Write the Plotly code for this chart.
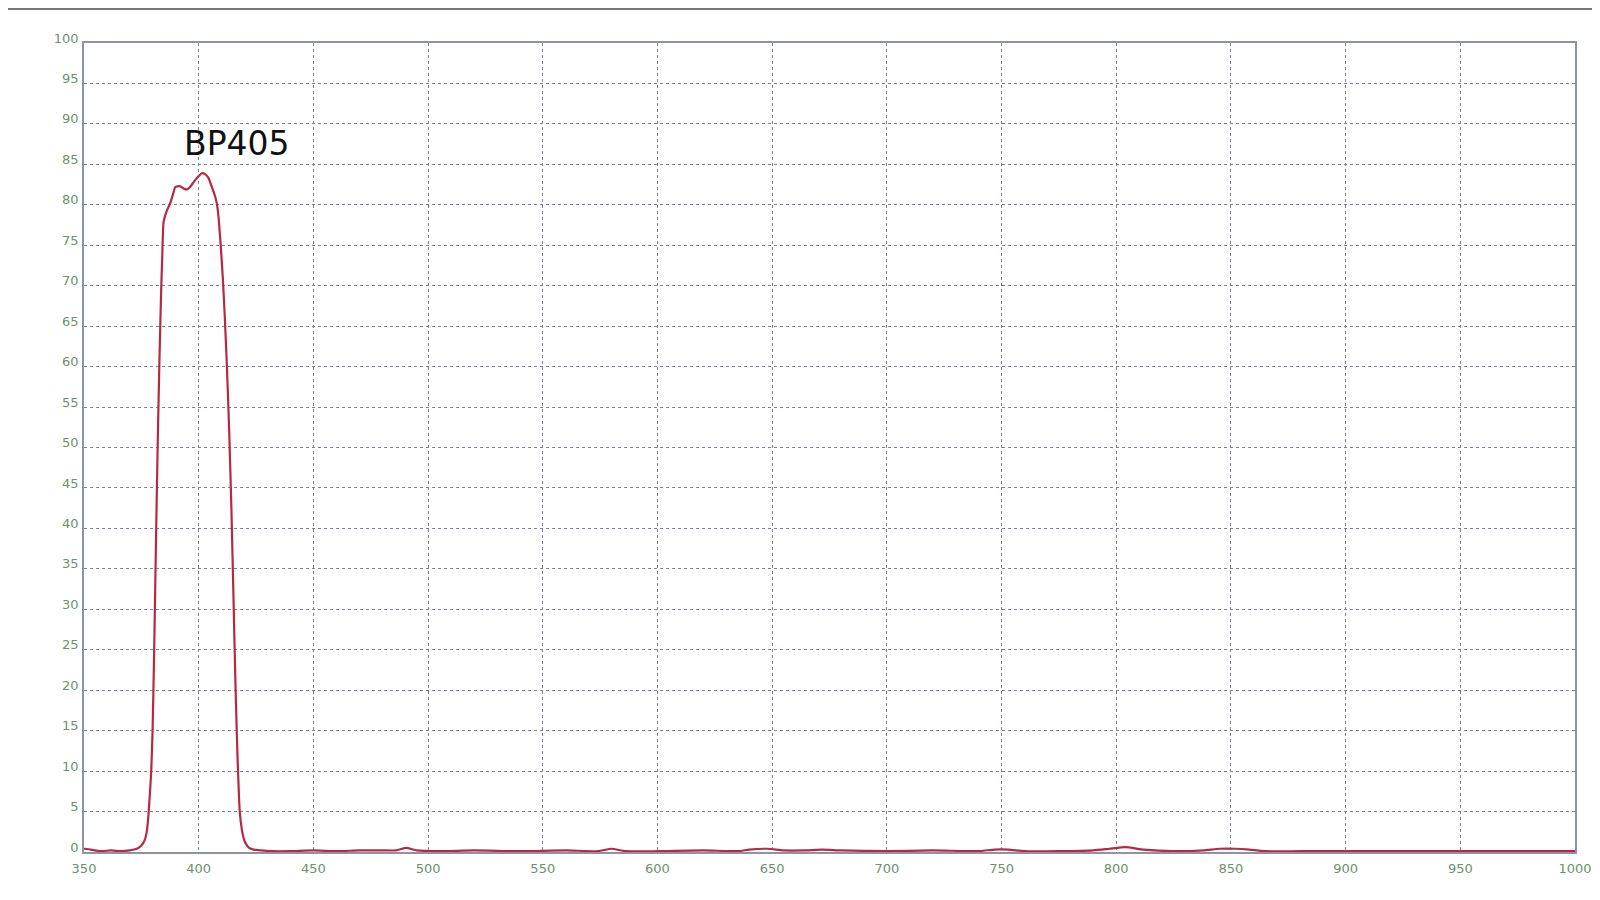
import plotly.graph_objects as go

# BP405 band-pass filter transmission curve
wavelength = [350, 353, 357, 362, 366, 370, 373, 375, 376.5, 377.5, 378.2, 378.8, 379.3, 379.9,
              380.6, 381.3, 382.1, 382.9, 383.7, 384.1, 384.7, 386, 387.6, 389, 389.8, 391.7,
              393.5, 394.9, 396.5, 397.8, 399.5, 401.4, 402.8, 404.3, 406, 407.2, 408,
              408.7, 409.6, 410.5, 411.4, 412.3, 413.3, 414.3, 415.2, 416.1, 416.9, 417.9,
              418.8, 419.7, 420.6, 422, 424, 427, 432, 440, 450, 460, 470, 480, 486, 490.5,
              495, 505, 520, 540, 560, 574, 580, 586, 600, 620, 635, 640, 648, 655, 664,
              672, 680, 700, 720, 740, 747, 753, 760, 775, 790, 797, 804, 812, 825, 838,
              845, 852, 858, 865, 880, 920, 960, 1000]
transmission = [0.4, 0.3, 0.1, 0.2, 0.1, 0.2, 0.4, 0.8, 1.5, 2.8, 5.0, 7.5, 10.0, 15.0,
                25.0, 37.0, 50.0, 61.0, 70.0, 73.5, 77.9, 79.2, 80.2, 81.5, 82.2, 82.3,
                82.0, 81.9, 82.3, 82.8, 83.4, 83.9, 83.8, 83.3, 82.0, 81.0, 80.0,
                78.3, 75.0, 71.0, 66.0, 60.0, 52.0, 42.0, 31.0, 20.0, 12.0, 5.0,
                2.8, 1.6, 1.0, 0.5, 0.3, 0.2, 0.1, 0.1, 0.2, 0.1, 0.2, 0.2, 0.2, 0.5,
                0.2, 0.1, 0.2, 0.1, 0.2, 0.1, 0.4, 0.1, 0.1, 0.2, 0.1, 0.3, 0.4, 0.2, 0.2,
                0.3, 0.2, 0.1, 0.2, 0.1, 0.3, 0.3, 0.1, 0.1, 0.2, 0.4, 0.6, 0.3, 0.1, 0.2,
                0.4, 0.4, 0.3, 0.1, 0.1, 0.1, 0.1, 0.1]

x_ticks = list(range(350, 1001, 50))
y_ticks = list(range(0, 101, 5))

label_text = 'BP405'
label_x = 416.5
label_y = 87.6

GRID = '#7c8096'
FRAME = '#8d92aa'
TICK_FONT = dict(family='DejaVu Sans', size=13, color='#6f906f')

fig = go.Figure()
fig.add_trace(go.Scatter(
    x=wavelength, y=transmission, mode='lines',
    line=dict(color='#b52a42', width=2.2, shape='spline', smoothing=0.5),
    hoverinfo='x+y', showlegend=False,
))

fig.add_annotation(x=label_x, y=label_y, text=label_text, showarrow=False,
                   font=dict(family='DejaVu Sans', size=33, color='#111111'))

# thin dark border at the top of the scan
fig.add_shape(type='line', xref='paper', yref='paper',
              x0=-0.06, x1=1.04, y0=1.042, y1=1.042,
              line=dict(color='#777777', width=2))

fig.update_xaxes(range=[350, 1000], tickvals=x_ticks, ticks='', tickfont=TICK_FONT,
                 showgrid=True, gridcolor=GRID, griddash='dot', gridwidth=1,
                 showline=True, linecolor=FRAME, linewidth=1.5, mirror=True,
                 zeroline=False, ticklabelstandoff=4, automargin=False)
fig.update_yaxes(range=[0, 100], tickvals=y_ticks, ticks='', tickfont=TICK_FONT,
                 showgrid=True, gridcolor=GRID, griddash='dot', gridwidth=1,
                 showline=True, linecolor=FRAME, linewidth=1.5, mirror=True,
                 zeroline=False, ticklabelstandoff=1, ticklabelshift=-5, automargin=False)

fig.update_layout(
    width=1584, height=884,
    margin=dict(l=76, r=17, t=35, b=40),
    paper_bgcolor='#ffffff', plot_bgcolor='#ffffff',
)

fig.write_html("out.html")
